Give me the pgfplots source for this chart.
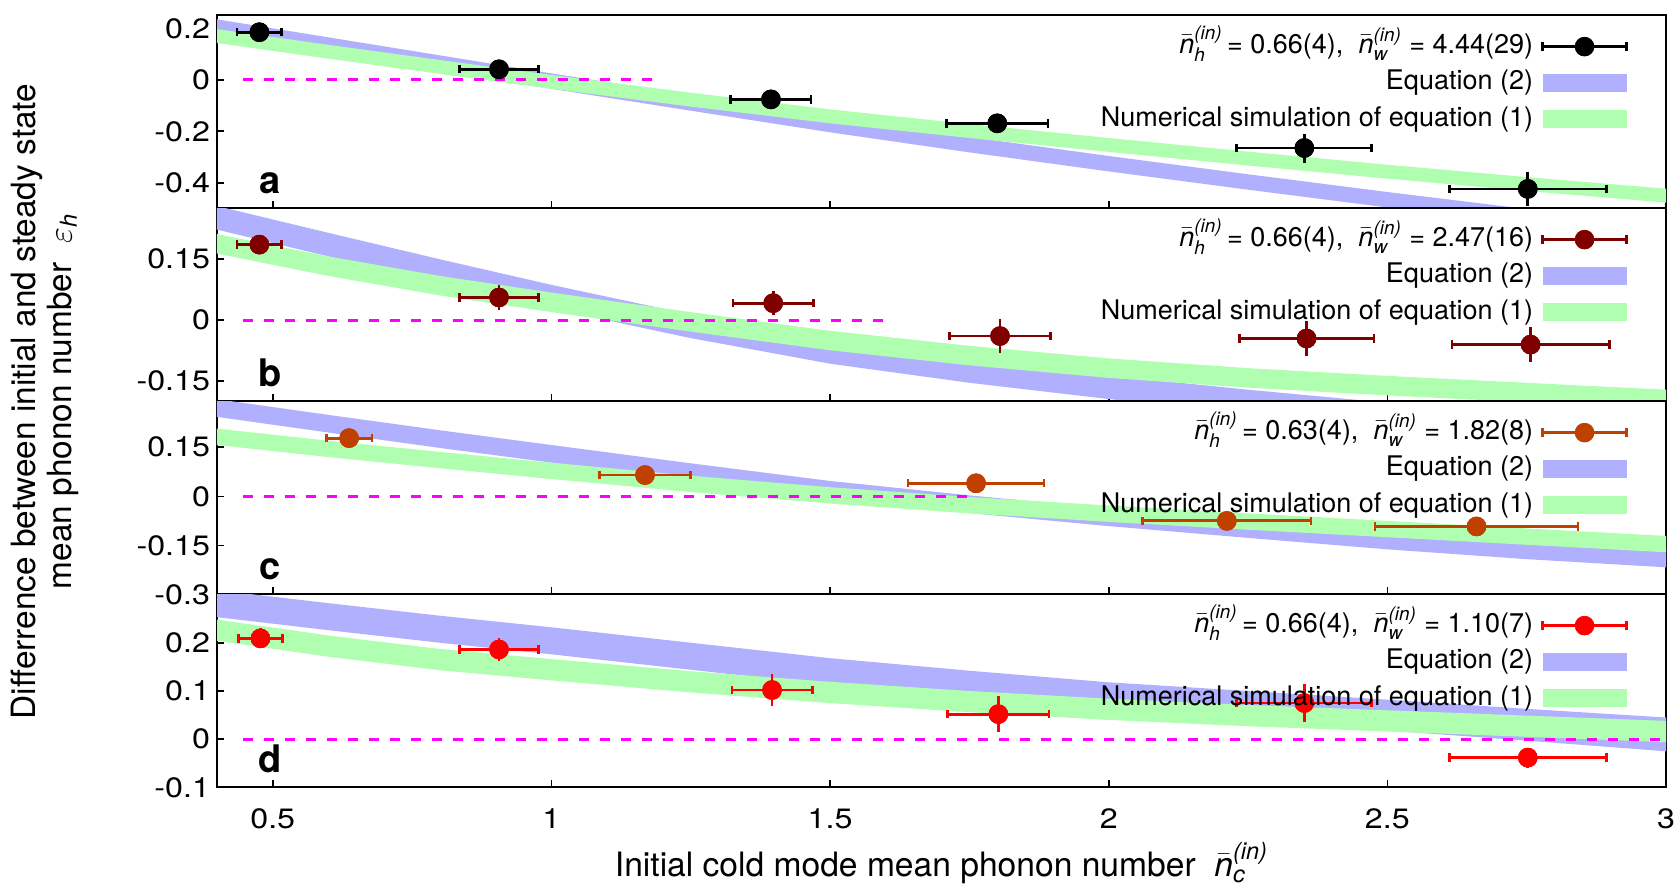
\documentclass[border=0pt]{standalone}
\usepackage{fontspec}
\setmainfont{TeX Gyre Heros}
\newfontfamily\tickfont{TeX Gyre Heros}[FakeStretch=1.15]
\usepackage{amsmath}
\usepackage{pgfplots}
\pgfplotsset{compat=1.18}
\usepackage{pgfplotstable}
\usepgfplotslibrary{groupplots}
\usetikzlibrary{calc}

\definecolor{bandblue}{RGB}{176,176,255}
\definecolor{bandgreen}{RGB}{176,255,176}
\definecolor{mkb}{RGB}{128,0,0}
\definecolor{mkc}{RGB}{192,64,0}
\definecolor{mkd}{RGB}{255,0,0}
\definecolor{zmag}{RGB}{255,0,255}

\newcommand\fs{\fontsize{13.5}{16}\selectfont}
\newcommand\fst{\tickfont\fontsize{14}{17}\selectfont}
\newcommand\nin[1]{$\bar{\textit{n}}^{\textit{(in)}}_{\textit{#1}}$}

\pgfplotstableread{
x ex y ey
0.476 0.040 0.185 0.015
0.906 0.071 0.041 0.015
1.394 0.072 -0.076 0.015
1.800 0.091 -0.169 0.020
2.351 0.121 -0.265 0.040
2.752 0.141 -0.424 0.050
}\dataA
\pgfplotstableread{
x ex y ey
0.476 0.040 0.186 0.012
0.906 0.071 0.056 0.020
1.398 0.072 0.042 0.020
1.805 0.091 -0.039 0.032
2.355 0.121 -0.045 0.032
2.757 0.141 -0.060 0.032
}\dataB
\pgfplotstableread{
x ex y ey
0.637 0.041 0.178 0.010
1.168 0.082 0.065 0.010
1.762 0.122 0.040 0.010
2.212 0.151 -0.075 0.010
2.660 0.182 -0.092 0.010
}\dataC
\pgfplotstableread{
x ex y ey
0.478 0.040 0.209 0.012
0.906 0.071 0.186 0.015
1.396 0.072 0.102 0.024
1.802 0.091 0.052 0.028
2.351 0.121 0.075 0.030
2.752 0.141 -0.038 0.012
}\dataD

\pgfplotsset{
  ebleg/.style={legend image code/.code={
    \draw[line width=1.4pt] (0pt,0pt) -- (42pt,0pt);
    \draw[line width=1.4pt] (0pt,-2.1pt) -- (0pt,2.1pt);
    \draw[line width=1.4pt] (42pt,-2.1pt) -- (42pt,2.1pt);
    \fill (21pt,0pt) circle (4.7pt);}},
  bandleg/.style={legend image code/.code={\fill[draw=none] (0pt,-4.5pt) rectangle (42pt,4.5pt);}},
  datax/.style={only marks, mark=*, mark size=4.7pt, color=#1,
    mark options={solid, fill=#1, draw=#1},
    /pgfplots/error bars/x dir=both, /pgfplots/error bars/x explicit,
    /pgfplots/error bars/error mark=|,
    /pgfplots/error bars/error bar style={line width=1.4pt, #1},
    /pgfplots/error bars/error mark options={line width=1.4pt, mark size=2.1pt, #1}},
  datay/.style={only marks, mark=*, mark size=4.7pt, color=#1,
    mark options={solid, fill=#1, draw=#1},
    /pgfplots/error bars/y dir=both, /pgfplots/error bars/y explicit,
    /pgfplots/error bars/error mark=-,
    /pgfplots/error bars/error bar style={line width=1.4pt, #1},
    /pgfplots/error bars/error mark options={line width=1.4pt, mark size=2.1pt, #1}},
  zeroline/.style={zmag, line width=1.4pt, dash pattern=on 5pt off 5.5pt, forget plot},
}
\tikzset{panellab/.style={font=\bfseries\fontsize{19}{22}\selectfont, anchor=base}}

\begin{document}
\begin{tikzpicture}
\begin{groupplot}[
  group style={group size=1 by 4, vertical sep=0pt, xticklabels at=edge bottom},
  width=724.5pt, height=96.5pt, scale only axis,
  xmin=0.4, xmax=3, xtick={0.5,1,1.5,2,2.5,3},
  xtick pos=left, ytick pos=left, tick align=inside,
  major tick length=3.5pt,
  every tick/.style={black, line width=0.8pt},
  axis line style={line width=1pt},
  scaled ticks=false,
  /pgf/number format/assume math mode=true,
  yticklabel style={font=\fst, /pgf/number format/fixed},
  xticklabel style={font=\fst, yshift=-7pt},
  label style={font=\fontsize{16.8}{20}\selectfont},
  legend plot pos=right, legend cell align=right,
  legend style={at={(rel axis cs:0.974,0.935)}, anchor=north east, draw=none, fill=none,
    font=\fs, row sep=0pt, column sep=3pt, inner sep=0pt,
    nodes={inner sep=1pt, text height=11.5pt, text depth=4.7pt}},
]
% ---------- a
\nextgroupplot[ymin=-0.5, ymax=0.25, ytick={-0.4,-0.2,0,0.2}]
\addplot[fill=bandblue, draw=none, forget plot] coordinates {
(0.4,0.235)(0.6,0.165)(0.8,0.095)(1.0,0.025)(1.25,-0.06)(1.5,-0.144)(1.75,-0.222)(2.0,-0.296)(2.25,-0.367)(2.5,-0.436)(2.75,-0.502)(3.0,-0.567)
(3.0,-0.627)(2.75,-0.562)(2.5,-0.496)(2.25,-0.427)(2.0,-0.356)(1.75,-0.282)(1.5,-0.204)(1.25,-0.12)(1.0,-0.035)(0.8,0.035)(0.6,0.105)(0.4,0.175)} -- cycle;
\addplot[fill=bandgreen, draw=none, forget plot] coordinates {
(0.4,0.197)(0.6,0.136)(0.8,0.077)(1.0,0.019)(1.25,-0.05)(1.5,-0.115)(1.75,-0.172)(2.0,-0.226)(2.25,-0.279)(2.5,-0.33)(2.75,-0.378)(3.0,-0.423)
(3.0,-0.477)(2.75,-0.432)(2.5,-0.384)(2.25,-0.333)(2.0,-0.28)(1.75,-0.226)(1.5,-0.169)(1.25,-0.104)(1.0,-0.035)(0.8,0.023)(0.6,0.082)(0.4,0.143)} -- cycle;
\addplot[zeroline] coordinates {(0.447,0) (1.2,0)};
\addplot[forget plot, datay=black] table[x=x, y=y, y error=ey] {\dataA};
\addplot[forget plot, datax=black] table[x=x, y=y, x error=ex] {\dataA};
\addlegendimage{ebleg, black}
\addlegendentry{\nin{h}\,= 0.66(4), \ \nin{w} = 4.44(29)}
\addlegendimage{bandleg, fill=bandblue}
\addlegendentry{Equation (2)}
\addlegendimage{bandleg, fill=bandgreen}
\addlegendentry{Numerical simulation of equation (1)}
\node[panellab] at (rel axis cs:0.0365,0.08) {a};
% ---------- b
\nextgroupplot[ymin=-0.2, ymax=0.275, ytick={-0.15,0,0.15}]
\addplot[fill=bandblue, draw=none, forget plot] coordinates {
(0.4,0.281)(0.6,0.215)(0.8,0.15)(1.0,0.087)(1.25,0.014)(1.5,-0.049)(1.75,-0.096)(2.0,-0.136)(2.25,-0.171)(2.5,-0.203)(2.75,-0.233)(3.0,-0.261)
(3.0,-0.319)(2.75,-0.291)(2.5,-0.261)(2.25,-0.229)(2.0,-0.194)(1.75,-0.154)(1.5,-0.107)(1.25,-0.044)(1.0,0.029)(0.8,0.092)(0.6,0.157)(0.4,0.223)} -- cycle;
\addplot[fill=bandgreen, draw=none, forget plot] coordinates {
(0.4,0.212)(0.6,0.157)(0.8,0.109)(1.0,0.068)(1.25,0.02)(1.5,-0.026)(1.75,-0.063)(2.0,-0.094)(2.25,-0.118)(2.5,-0.137)(2.75,-0.154)(3.0,-0.171)
(3.0,-0.219)(2.75,-0.202)(2.5,-0.185)(2.25,-0.166)(2.0,-0.142)(1.75,-0.111)(1.5,-0.074)(1.25,-0.028)(1.0,0.02)(0.8,0.061)(0.6,0.109)(0.4,0.164)} -- cycle;
\addplot[zeroline] coordinates {(0.447,0) (1.6,0)};
\addplot[forget plot, datay=mkb] table[x=x, y=y, y error=ey] {\dataB};
\addplot[forget plot, datax=mkb] table[x=x, y=y, x error=ex] {\dataB};
\addlegendimage{ebleg, mkb}
\addlegendentry{\nin{h}\,= 0.66(4), \ \nin{w} = 2.47(16)}
\addlegendimage{bandleg, fill=bandblue}
\addlegendentry{Equation (2)}
\addlegendimage{bandleg, fill=bandgreen}
\addlegendentry{Numerical simulation of equation (1)}
\node[panellab] at (rel axis cs:0.0365,0.08) {b};
% ---------- c
\nextgroupplot[ymin=-0.3, ymax=0.29, ytick={-0.3,-0.15,0,0.15}]
\addplot[fill=bandblue, draw=none, forget plot] coordinates {
(0.4,0.297)(0.6,0.249)(0.8,0.202)(1.0,0.157)(1.25,0.101)(1.5,0.047)(1.75,0.003)(2.0,-0.037)(2.25,-0.073)(2.5,-0.108)(2.75,-0.138)(3.0,-0.163)
(3.0,-0.217)(2.75,-0.192)(2.5,-0.162)(2.25,-0.127)(2.0,-0.091)(1.75,-0.051)(1.5,-0.007)(1.25,0.047)(1.0,0.103)(0.8,0.148)(0.6,0.195)(0.4,0.243)} -- cycle;
\addplot[fill=bandgreen, draw=none, forget plot] coordinates {
(0.4,0.207)(0.6,0.17)(0.8,0.136)(1.0,0.103)(1.25,0.063)(1.5,0.028)(1.75,-0.002)(2.0,-0.028)(2.25,-0.052)(2.5,-0.075)(2.75,-0.098)(3.0,-0.121)
(3.0,-0.171)(2.75,-0.148)(2.5,-0.125)(2.25,-0.102)(2.0,-0.078)(1.75,-0.052)(1.5,-0.022)(1.25,0.013)(1.0,0.053)(0.8,0.086)(0.6,0.12)(0.4,0.157)} -- cycle;
\addplot[zeroline] coordinates {(0.447,0) (1.76,0)};
\addplot[forget plot, datay=mkc] table[x=x, y=y, y error=ey] {\dataC};
\addplot[forget plot, datax=mkc] table[x=x, y=y, x error=ex] {\dataC};
\addlegendimage{ebleg, mkc}
\addlegendentry{\nin{h}\,= 0.63(4), \ \nin{w} = 1.82(8)}
\addlegendimage{bandleg, fill=bandblue}
\addlegendentry{Equation (2)}
\addlegendimage{bandleg, fill=bandgreen}
\addlegendentry{Numerical simulation of equation (1)}
\node[panellab] at (rel axis cs:0.0365,0.08) {c};
% ---------- d
\nextgroupplot[ymin=-0.1, ymax=0.3, ytick={-0.1,0,0.1,0.2},
  xlabel={Initial cold mode mean phonon number \ \nin{c}}]
\addplot[fill=bandblue, draw=none, forget plot] coordinates {
(0.4,0.309)(0.6,0.282)(0.8,0.256)(1.0,0.232)(1.25,0.2)(1.5,0.168)(1.75,0.142)(2.0,0.118)(2.25,0.1)(2.5,0.082)(2.75,0.063)(3.0,0.045)
(3.0,-0.025)(2.75,-0.003)(2.5,0.018)(2.25,0.04)(2.0,0.062)(1.75,0.086)(1.5,0.112)(1.25,0.144)(1.0,0.176)(0.8,0.2)(0.6,0.226)(0.4,0.253)} -- cycle;
\addplot[fill=bandgreen, draw=none, forget plot] coordinates {
(0.4,0.248)(0.6,0.215)(0.8,0.187)(1.0,0.166)(1.25,0.141)(1.5,0.119)(1.75,0.1)(2.0,0.084)(2.25,0.071)(2.5,0.06)(2.75,0.049)(3.0,0.038)
(3.0,-0.006)(2.75,0.005)(2.5,0.016)(2.25,0.027)(2.0,0.04)(1.75,0.056)(1.5,0.075)(1.25,0.097)(1.0,0.122)(0.8,0.143)(0.6,0.171)(0.4,0.204)} -- cycle;
\addplot[zeroline] coordinates {(0.447,0) (3.0,0)};
\addplot[forget plot, datay=mkd] table[x=x, y=y, y error=ey] {\dataD};
\addplot[forget plot, datax=mkd] table[x=x, y=y, x error=ex] {\dataD};
\addlegendimage{ebleg, mkd}
\addlegendentry{\nin{h}\,= 0.66(4), \ \nin{w} = 1.10(7)}
\addlegendimage{bandleg, fill=bandblue}
\addlegendentry{Equation (2)}
\addlegendimage{bandleg, fill=bandgreen}
\addlegendentry{Numerical simulation of equation (1)}
\node[panellab] at (rel axis cs:0.0365,0.08) {d};
\end{groupplot}
\node[rotate=90, align=center, font=\fontsize{16.7}{18}\selectfont]
  at ($(group c1r1.north west)!0.5!(group c1r4.south west)+(-86pt,0)$)
  {Differrence between initial and steady state\\mean phonon number \ $\varepsilon_{\textit{h}}$};
\pgfresetboundingbox
\path[use as bounding box] ($(group c1r4.south west)+(-108.5pt,-52.5pt)$) rectangle ($(group c1r1.north east)+(6.5pt,7.75pt)$);
\end{tikzpicture}
\end{document}
